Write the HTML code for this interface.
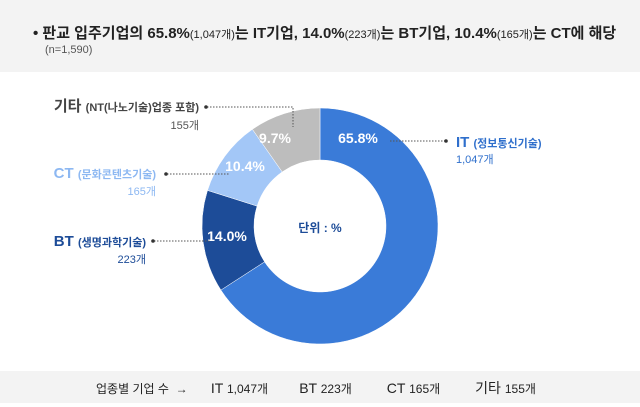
<!DOCTYPE html>
<html><head><meta charset="utf-8"><style>
body{margin:0;width:640px;height:407px;background:#fff;font-family:"Liberation Sans","Noto Sans CJK KR",sans-serif;position:relative;overflow:hidden}
.top{position:absolute;left:0;top:0;width:640px;height:72px;background:#f3f3f3}
.bot{position:absolute;left:0;top:371px;width:640px;height:32px;background:#f3f3f3}
.t{position:absolute;white-space:nowrap}
</style></head><body>
<div class="top">
<div class="t" style="left:33px;top:22px;font-size:15px;font-weight:bold;color:#222">• 판교 입주기업의 65.8%<span style="font-size:11px;font-weight:normal">(1,047개)</span>는 IT기업, 14.0%<span style="font-size:11px;font-weight:normal">(223개)</span>는 BT기업, 10.4%<span style="font-size:11px;font-weight:normal">(165개)</span>는 CT에 해당</div>
<div class="t" style="left:45px;top:44px;font-size:11px;color:#555">(n=1,590)</div>
</div>
<svg id="chart" width="640" height="407" style="position:absolute;left:0;top:0"></svg>
<div class="bot">
<div class="t" style="left:96px;top:7px;font-size:14px;color:#222"><span style="font-size:12px">업종별 기업 수 &nbsp;→</span>&nbsp;&nbsp;&nbsp;&nbsp;&nbsp; IT <span style="font-size:12px">1,047개</span>&nbsp;&nbsp;&nbsp;&nbsp;&nbsp;&nbsp;&nbsp; BT <span style="font-size:12px">223개</span>&nbsp;&nbsp;&nbsp;&nbsp;&nbsp;&nbsp;&nbsp;&nbsp; CT <span style="font-size:12px">165개</span>&nbsp;&nbsp;&nbsp;&nbsp;&nbsp;&nbsp;&nbsp;&nbsp; 기타 <span style="font-size:12px">155개</span></div>
</div>
<script>
const categories=["IT","BT","CT","기타"];
const values=[65.8,14.0,10.4,9.7];
const valueLabels=["65.8%","14.0%","10.4%","9.7%"];
const colors=["#3a7bd8","#1d4c98","#a3c7f7","#bdbdbd"];
const svg=document.getElementById('chart');
const NS="http://www.w3.org/2000/svg";
const cx=320,cy=226,R=118,r=66;
const total=values.reduce((a,b)=>a+b,0);
function pt(a,rad){return [cx+rad*Math.sin(a),cy-rad*Math.cos(a)];}
let acc=0;
values.forEach((v,i)=>{
 const a0=acc/total*2*Math.PI;acc+=v;const a1=acc/total*2*Math.PI;
 const lg=(a1-a0)>Math.PI?1:0;
 const [x0,y0]=pt(a0,R),[x1,y1]=pt(a1,R),[x2,y2]=pt(a1,r),[x3,y3]=pt(a0,r);
 const p=document.createElementNS(NS,'path');
 p.setAttribute('d',`M${x0},${y0}A${R},${R} 0 ${lg} 1 ${x1},${y1}L${x2},${y2}A${r},${r} 0 ${lg} 0 ${x3},${y3}Z`);
 p.setAttribute('fill',colors[i]);p.setAttribute('stroke','#fff');p.setAttribute('stroke-width','0.5');
 
 
 svg.appendChild(p);
});
const lblPos=[[358,143],[227,241],[245,171],[275,143]];
valueLabels.forEach((t,i)=>{
 const e=document.createElementNS(NS,'text');
 e.setAttribute('x',lblPos[i][0]);e.setAttribute('y',lblPos[i][1]);
 e.setAttribute('text-anchor','middle');e.setAttribute('fill','#fff');
 e.setAttribute('font-size','14');e.setAttribute('font-weight','bold');
 e.textContent=t;
 
 
 svg.appendChild(e);
});
const c=document.createElementNS(NS,'text');
c.setAttribute('x',cx);c.setAttribute('y',232);c.setAttribute('text-anchor','middle');
c.setAttribute('fill','#1d4c98');c.setAttribute('font-size','12');c.setAttribute('font-weight','bold');
c.textContent='단위 : %';


svg.appendChild(c);
function line(pts){const l=document.createElementNS(NS,'polyline');l.setAttribute('points',pts);l.setAttribute('fill','none');l.setAttribute('stroke','#555');l.setAttribute('stroke-dasharray','1.5,1.5');


svg.appendChild(l);}
function dot(x,y){const d=document.createElementNS(NS,'circle');d.setAttribute('cx',x);d.setAttribute('cy',y);d.setAttribute('r',1.8);d.setAttribute('fill','#333');


svg.appendChild(d);}
line('390,141 445,141');dot(446,141);
line('207,107 293,107 293,127');dot(206,107);
line('167,174 230,174');dot(166,174);
line('154,241 210,241');dot(153,241);
function txt(x,y,s,fill,size,anchor,w,name){const e=document.createElementNS(NS,'text');e.setAttribute('x',x);e.setAttribute('y',y);e.setAttribute('fill',fill);e.setAttribute('font-size',size);e.setAttribute('text-anchor',anchor);if(w)e.setAttribute('font-weight','bold');e.innerHTML=s;


svg.appendChild(e);}
txt(456,147,'IT <tspan font-size="11">(정보통신기술)</tspan>','#2f6fcc',15,'start',true,'it-label');
txt(456,163,'1,047개','#2f6fcc',11,'start',false,'it-count');
txt(199,111,'기타 <tspan font-size="11">(NT(나노기술)업종 포함)</tspan>','#444',15,'end',true,'other-label');
txt(199,129,'155개','#555',11,'end',false,'other-count');
txt(156,178,'CT <tspan font-size="11">(문화콘텐츠기술)</tspan>','#8db8f2',15,'end',true,'ct-label');
txt(156,195,'165개','#8db8f2',11,'end',false,'ct-count');
txt(146,246,'BT <tspan font-size="11">(생명과학기술)</tspan>','#1d4c98',15,'end',true,'bt-label');
txt(146,263,'223개','#1d4c98',11,'end',false,'bt-count');
</script>
</body></html>
